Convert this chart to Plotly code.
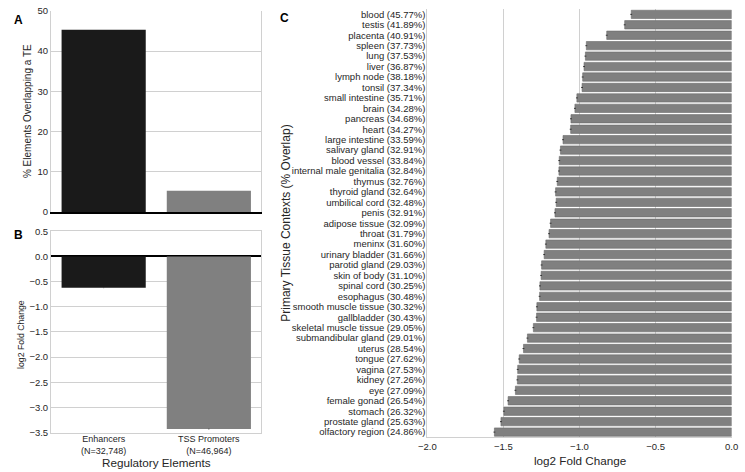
import plotly.graph_objects as go

# ---- Data ----
elements = ["Enhancers<br>(N=32,748)", "TSS Promoters<br>(N=46,964)"]
pct_overlap = [45.3, 5.3]
elem_fold = [-0.62, -3.43]
elem_err = [0.01, 0.01]
elem_colors = ["#1a1a1a", "#808080"]

tissues = [
    "blood (45.77%)", "testis (41.89%)", "placenta (40.91%)", "spleen (37.73%)",
    "lung (37.53%)", "liver (36.87%)", "lymph node (38.18%)", "tonsil (37.34%)",
    "small intestine (35.71%)", "brain (34.28%)", "pancreas (34.68%)", "heart (34.27%)",
    "large intestine (33.59%)", "salivary gland (32.91%)", "blood vessel (33.84%)",
    "internal male genitalia (32.84%)", "thymus (32.76%)", "thyroid gland (32.64%)",
    "umbilical cord (32.48%)", "penis (32.91%)", "adipose tissue (32.09%)",
    "throat (31.79%)", "meninx (31.60%)", "urinary bladder (31.66%)",
    "parotid gland (29.03%)", "skin of body (31.10%)", "spinal cord (30.25%)",
    "esophagus (30.48%)", "smooth muscle tissue (30.32%)", "gallbladder (30.43%)",
    "skeletal muscle tissue (29.05%)", "submandibular gland (29.01%)", "uterus (28.54%)",
    "tongue (27.62%)", "vagina (27.53%)", "kidney (27.26%)", "eye (27.09%)",
    "female gonad (26.54%)", "stomach (26.32%)", "prostate gland (25.63%)",
    "olfactory region (24.86%)",
]
tissue_fold = [
    -0.660, -0.703, -0.821, -0.955, -0.961, -0.970, -0.979, -0.983,
    -1.017, -1.030, -1.056, -1.058, -1.108, -1.125, -1.133, -1.135,
    -1.146, -1.157, -1.153, -1.161, -1.190, -1.200, -1.221, -1.232,
    -1.249, -1.252, -1.260, -1.262, -1.280, -1.282, -1.303, -1.342,
    -1.368, -1.396, -1.406, -1.408, -1.421, -1.469, -1.497, -1.516,
    -1.559,
]
tissue_err = [0.006] * len(tissues)

FONT = "Arial, Liberation Sans, sans-serif"
TXT = "#262626"
GRID = "#d0d0d0"

fig = go.Figure()

# Panel A
fig.add_trace(go.Bar(
    x=elements, y=pct_overlap, marker=dict(color=elem_colors, line=dict(width=0)),
    xaxis="x", yaxis="y", showlegend=False,
))
# Panel B
fig.add_trace(go.Bar(
    x=elements, y=elem_fold, marker=dict(color=elem_colors, line=dict(width=0)),
    error_y=dict(type="data", array=elem_err, color="#444", thickness=1, width=0),
    xaxis="x2", yaxis="y2", showlegend=False,
))
# Panel C
fig.add_trace(go.Bar(
    y=tissues, x=tissue_fold, orientation="h",
    marker=dict(color="#808080", line=dict(color="#6a6a6a", width=0.6)),
    error_x=dict(type="data", array=tissue_err, color="#333", thickness=1, width=0),
    xaxis="x3", yaxis="y3", showlegend=False,
))

tick_font = dict(family=FONT, size=9.5, color=TXT)


def label(text, x, y, size, angle=0, bold=False, color=TXT, xanchor="center", yanchor="middle"):
    return dict(text=f"<b>{text}</b>" if bold else text, x=x, y=y,
                xref="paper", yref="paper", showarrow=False, textangle=angle,
                xanchor=xanchor, yanchor=yanchor,
                font=dict(family=FONT, size=size, color=color))


fig.update_layout(
    width=745, height=472,
    margin=dict(l=0, r=0, t=0, b=0),
    paper_bgcolor="white", plot_bgcolor="white",
    font=dict(family=FONT, color=TXT),
    bargap=0.2,
    xaxis=dict(domain=[0.0577, 0.3463], anchor="y", showticklabels=False,
               showline=True, linecolor="black", linewidth=1.5, showgrid=False,
               ticks=""),
    yaxis=dict(domain=[0.553, 0.9894], anchor="x", range=[0, 50],
               tickvals=[0, 10, 20, 30, 40, 50], tickfont=tick_font,
               showgrid=True, gridcolor=GRID, gridwidth=1,
               showline=True, linecolor=GRID, mirror=True, zeroline=False),
    xaxis2=dict(domain=[0.0577, 0.3463], anchor="y2",
                tickfont=dict(family=FONT, size=9, color=TXT),
                showline=True, linecolor=GRID, mirror=True, showgrid=False, ticks="",
                ticklabelstandoff=-2),
    yaxis2=dict(domain=[0.0748, 0.5112], anchor="x2", range=[-3.5, 0.5],
                tickvals=[0.5, 0, -0.5, -1, -1.5, -2, -2.5, -3, -3.5],
                ticktext=["0.5", "0.0", "\u22120.5", "\u22121.0", "\u22121.5",
                          "\u22122.0", "\u22122.5", "\u22123.0", "\u22123.5"],
                tickfont=tick_font, showgrid=True, gridcolor=GRID,
                zeroline=True, zerolinecolor="black", zerolinewidth=1.5,
                showline=True, linecolor=GRID, mirror=True),
    xaxis3=dict(domain=[0.5738, 0.9913], anchor="y3", range=[-2, 0],
                tickvals=[-2, -1.5, -1, -0.5, 0],
                ticktext=["\u22122.0", "\u22121.5", "\u22121.0", "\u22120.5", "0.0"],
                ticklabeloverflow="allow", ticklabelstandoff=0,
                tickfont=tick_font, showgrid=True, gridcolor=GRID, zeroline=False,
                showline=True, linecolor=GRID),
    yaxis3=dict(domain=[0.0644, 0.9932], anchor="x3", autorange="reversed",
                categoryorder="array", categoryarray=tissues,
                tickmode="array", tickvals=tissues, ticktext=tissues,
                tickfont=dict(family=FONT, size=9.5, color=TXT), ticks="",
                ticklabelstandoff=-1,
                showline=True, linecolor=GRID, showgrid=False),
    annotations=[
        label("A", 0.004, 0.99, 12, bold=True, color="black", xanchor="left", yanchor="top"),
        label("B", 0.004, 0.522, 12, bold=True, color="black", xanchor="left", yanchor="top"),
        label("C", 0.369, 0.994, 12, bold=True, color="black", xanchor="left", yanchor="top"),
        label("% Elements Overlapping a TE", 0.0255, 0.7712, 10, angle=-90),
        label("log2 Fold Change", 0.0161, 0.2881, 8.7, angle=-90),
        label("Regulatory Elements", 0.202, 0.0095, 11.7),
        label("log2 Fold Change", 0.7826, 0.0150, 11.7),
        label("Primary Tissue Contexts (% Overlap)", 0.3799, 0.5297, 12, angle=-90),
    ],
)

fig.write_html("out.html", config={"displayModeBar": False},
               post_script="document.body.style.margin='0';")
